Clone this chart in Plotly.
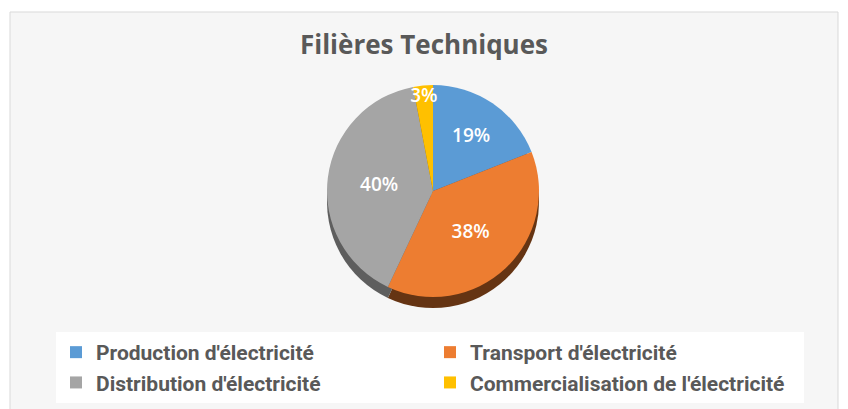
import plotly.graph_objects as go

labels = ["Production d'électricité", "Transport d'électricité",
          "Distribution d'électricité", "Commercialisation de l'électricité"]
values = [19, 38, 40, 3]
colors = ["#5B9BD5", "#ED7D31", "#A5A5A5", "#FFC000"]
side_colors = ["#2F5A85", "#653413", "#5E5E5E", "#8A6A00"]
title_text = "Filières Techniques"

W, H = 848, 409
cx, cy, r = 433, 191, 106
depth = 11

def dom(cy_px):
    return dict(x=[(cx - r) / W, (cx + r) / W],
                y=[1 - (cy_px + r) / H, 1 - (cy_px - r) / H])

fig = go.Figure()
# side (depth) of the pie
fig.add_trace(go.Pie(labels=labels, values=values, sort=False, direction="clockwise",
                     marker=dict(colors=side_colors, line=dict(width=0)),
                     textinfo="none", hoverinfo="skip", showlegend=False,
                     domain=dom(cy + depth)))
# top face
fig.add_trace(go.Pie(labels=labels, values=values, sort=False, direction="clockwise",
                     marker=dict(colors=colors, line=dict(width=0)),
                     textinfo="percent", textposition="inside",
                     insidetextorientation="horizontal",
                     textfont=dict(color="white", size=19, family="Open Sans", weight=600),
                     domain=dom(cy)))

fig.update_layout(
    width=W, height=H,
    margin=dict(l=0, r=0, t=0, b=0),
    paper_bgcolor="white",
    title=dict(text=title_text, x=0.5, xanchor="center", y=1 - 45 / H, yanchor="middle",
               yref="container",
               font=dict(family="Open Sans", size=26, color="#595959", weight="bold")),
    uniformtext=dict(minsize=19, mode="show"),
    legend=dict(orientation="h", x=56 / W, xanchor="left", y=1 - 332 / H, yanchor="top",
                entrywidth=329, entrywidthmode="pixels", bgcolor="white",
                font=dict(family="Roboto", size=21, color="#595959", weight="bold"),
                traceorder="normal"),
    shapes=[dict(type="rect", xref="paper", yref="paper", x0=10 / W, x1=838 / W,
                 y0=-0.05, y1=1 - 12 / H, fillcolor="#F6F6F6",
                 line=dict(color="#D9D9D9", width=1), layer="below")],
)

fig.write_html("out.html", config={"displayModeBar": False},
               post_script="document.body.style.margin='0';")
